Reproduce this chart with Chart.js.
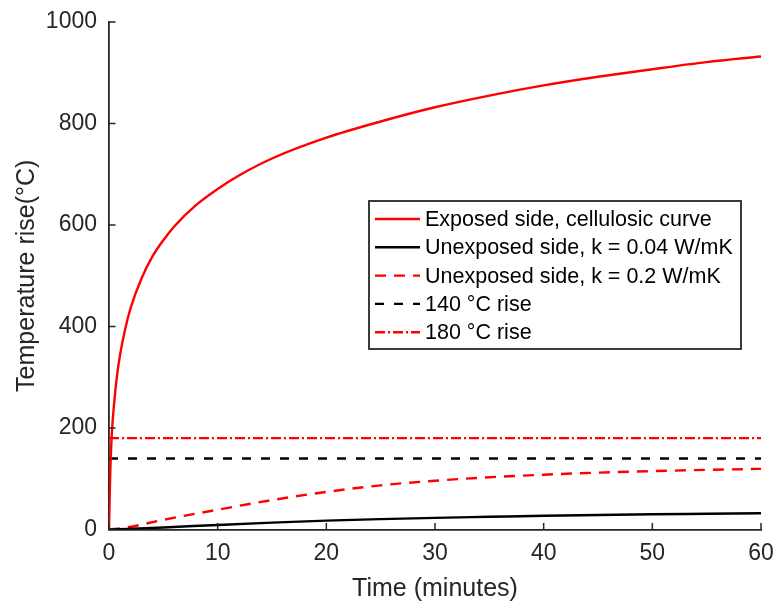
<!DOCTYPE html>
<html><head><meta charset="utf-8">
<style>html,body{margin:0;padding:0;background:#fff;}#wrap{width:774px;height:603px;}</style>
<script src="https://cdn.jsdelivr.net/npm/chart.js@4.4.0/dist/chart.umd.min.js"></script>
</head><body><div id="wrap"><canvas id="c" width="774" height="603"></canvas></div>
<script>
// ---- data ----
const timeExposed = [0, 0.1, 0.25, 0.5, 0.75, 1, 1.5, 2, 3, 4, 5, 6, 8, 10, 12, 15, 20, 25, 30, 35, 40, 45, 50, 55, 60];
const exposedSide = [0, 100, 185, 255, 305, 342, 396, 437, 495, 538, 570, 597, 639, 671, 698, 731, 772, 804, 832, 855, 875, 892, 907, 921, 932];

const timeK004 = [0, 5, 10, 15, 20, 25, 30, 35, 40, 45, 50, 55, 60];
const unexposedK004 = [0, 4, 9, 13.5, 17.5, 20.5, 23, 25, 27, 28.5, 30, 31, 32];

const timeK02 = [0, 1.5, 5, 10, 15, 20, 25, 30, 35, 40, 45, 50, 55, 60];
const unexposedK02 = [0, 3.5, 19, 39, 58, 74, 87, 96, 103, 108, 112, 115, 117.5, 119.5];

const timeLimits = [0, 60];
const rise140 = [140, 140];
const rise180 = [180, 180];

const seriesLabels = ['Exposed side, cellulosic curve', 'Unexposed side, k = 0.04 W/mK', 'Unexposed side, k = 0.2 W/mK', '140 °C rise', '180 °C rise'];
const xTickStep = 10, xMin = 0, xMax = 60;
const yTickStep = 200, yMin = 0, yMax = 1000;
const xTitle = 'Time (minutes)';
const yTitle = 'Temperature rise(°C)';

// ---- styling ----
const FONT = "'Liberation Sans', Arial, Helvetica, sans-serif";
const AXIS = '#262626';
const pts = (xs, ys) => xs.map((x, i) => ({x: x, y: ys[i]}));

const inwardTicks = {
  id: 'inwardTicks',
  afterDatasetsDraw(chart) {
    const {ctx, chartArea: a, scales: {x, y}} = chart;
    ctx.save();
    ctx.strokeStyle = AXIS; ctx.lineWidth = 1.5;
    ctx.beginPath();
    x.ticks.forEach(t => { const px = x.getPixelForValue(t.value); ctx.moveTo(px, a.bottom); ctx.lineTo(px, a.bottom - 6.5); });
    y.ticks.forEach(t => { const py = y.getPixelForValue(t.value); ctx.moveTo(a.left, py); ctx.lineTo(a.left + 6.5, py); });
    ctx.stroke();
    ctx.restore();
  }
};

const boxLegend = {
  id: 'boxLegend',
  afterDraw(chart) {
    const ctx = chart.ctx;
    const L = 369, T = 201, R = 741, B = 349;
    ctx.save();
    ctx.fillStyle = '#fff'; ctx.fillRect(L, T, R - L, B - T);
    ctx.strokeStyle = AXIS; ctx.lineWidth = 1.8; ctx.strokeRect(L, T, R - L, B - T);
    chart.data.datasets.forEach((ds, i) => {
      const y = 219 + i * 28.3;
      ctx.strokeStyle = ds.borderColor; ctx.lineWidth = ds.borderWidth;
      ctx.setLineDash(ds.borderDash || []);
      ctx.beginPath(); ctx.moveTo(375, y); ctx.lineTo(420, y); ctx.stroke();
      ctx.setLineDash([]);
      ctx.fillStyle = '#000'; ctx.font = '21.5px ' + FONT; ctx.textBaseline = 'middle'; ctx.textAlign = 'left';
      ctx.fillText(ds.label, 425, y + 1);
    });
    ctx.restore();
  }
};

const common = {pointRadius: 0, fill: false, borderWidth: 2.4, borderJoinStyle: 'round'};

new Chart(document.getElementById('c'), {
  type: 'line',
  data: {
    datasets: [
      Object.assign({label: seriesLabels[0], data: pts(timeExposed, exposedSide), borderColor: '#ff0000', cubicInterpolationMode: 'monotone'}, common),
      Object.assign({label: seriesLabels[1], data: pts(timeK004, unexposedK004), borderColor: '#000000', cubicInterpolationMode: 'monotone'}, common),
      Object.assign({label: seriesLabels[2], data: pts(timeK02, unexposedK02), borderColor: '#ff0000', borderDash: [11, 8], cubicInterpolationMode: 'monotone'}, common),
      Object.assign({label: seriesLabels[3], data: pts(timeLimits, rise140), borderColor: '#000000', borderDash: [9, 10]}, common),
      Object.assign({label: seriesLabels[4], data: pts(timeLimits, rise180), borderColor: '#ff0000', borderDash: [10, 3, 2, 3]}, common)
    ]
  },
  options: {
    responsive: false, animation: false, devicePixelRatio: 1,
    layout: {padding: {left: 0, top: 22, right: 13, bottom: 0}},
    plugins: {legend: {display: false}, tooltip: {enabled: false}},
    scales: {
      x: {
        type: 'linear', min: xMin, max: xMax,
        ticks: {stepSize: xTickStep, color: AXIS, font: {family: FONT, size: 23}, padding: 10, maxRotation: 0,
                callback: v => String(v)},
        grid: {display: false, drawTicks: false},
        border: {display: true, color: AXIS, width: 1.8},
        title: {display: true, text: xTitle, color: AXIS, font: {family: FONT, size: 25, lineHeight: 1}, padding: {top: 0, bottom: 1.2}},
        afterFit(s) { s.height = 73.5; s.paddingLeft = 0; s.paddingRight = 0; }
      },
      y: {
        type: 'linear', min: yMin, max: yMax,
        ticks: {stepSize: yTickStep, color: AXIS, font: {family: FONT, size: 23}, padding: 12,
                callback: v => String(v)},
        grid: {display: false, drawTicks: false},
        border: {display: true, color: AXIS, width: 1.8},
        title: {display: true, text: yTitle, color: AXIS, font: {family: FONT, size: 25, lineHeight: 1}, padding: {top: 14.5, bottom: 0}},
        afterFit(s) { s.width = 109; s.paddingTop = 0; s.paddingBottom = 0; }
      }
    }
  },
  plugins: [inwardTicks, boxLegend]
});
</script>
</body></html>
